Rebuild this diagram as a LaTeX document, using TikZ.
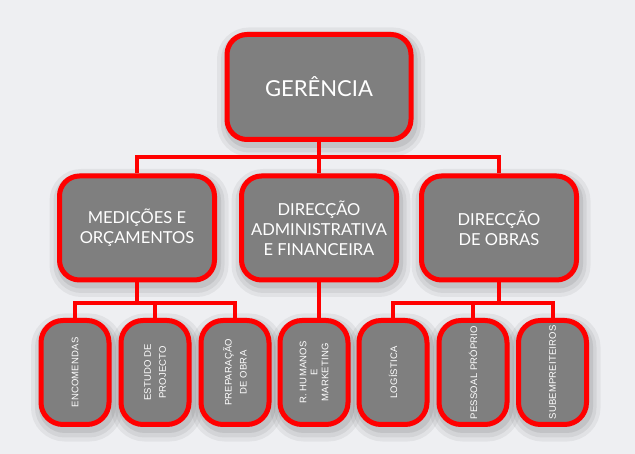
\documentclass[tikz,border=0pt]{standalone}
\usepackage{fontspec}
\setmainfont{Lato}
\newfontfamily\smallfont[LetterSpace=2]{Liberation Sans}
\definecolor{bgcol}{HTML}{EEEFF2}
\definecolor{boxfill}{HTML}{7F7F7F}
\definecolor{boxred}{HTML}{FF0000}
\tikzset{
  softshadow/.style={
    preaction={draw=black, draw opacity=0.05, line width=24pt, transform canvas={xshift=2pt, yshift=-5pt}},
    preaction={draw=black, draw opacity=0.06, line width=16pt, transform canvas={xshift=2pt, yshift=-5pt}},
    preaction={draw=black, draw opacity=0.08, line width=9pt, transform canvas={xshift=2pt, yshift=-4pt}}},
  orgbox/.style={draw=boxred, line width=5pt, fill=boxfill, rounded corners=20pt,
    text=white, align=center, inner sep=0pt, softshadow},
  topbox/.style={orgbox, minimum width=184pt, minimum height=105pt, font=\fontsize{22}{24}\selectfont},
  midbox/.style={orgbox, minimum width=155pt, minimum height=104pt, font=\fontsize{16.5}{20}\selectfont},
  lowbox/.style={orgbox, minimum width=68pt, minimum height=104pt, rounded corners=22pt},
  lowtext/.style={text=white, align=center, rotate=90, inner sep=0pt, font=\smallfont\fontsize{9.5}{15}\selectfont},
  link/.style={draw=boxred, line width=4pt}
}
\begin{document}
\begin{tikzpicture}[x=1pt, y=-1pt]
  \fill[bgcol] (0,0) rectangle (635,454);
  \useasboundingbox (0,0) rectangle (635,454);

  \coordinate (busA) at (319,157);
  \coordinate (busL) at (137,303);
  \coordinate (busR) at (499,303);

  \node[topbox] (ger) at (319,87) {GERÊNCIA};

  \node[midbox] (med) at (137,228) {MEDIÇÕES E\\ORÇAMENTOS};
  \node[midbox] (adm) at (319,228) {DIRECÇÃO\\ADMINISTRATIVA\\E FINANCEIRA};
  \node[midbox] (obr) at (499,228) {DIRECÇÃO\\DE OBRAS};

  \node[lowbox] (enc) at (75,372.5) {};
  \node[lowbox] (est) at (155,372.5) {};
  \node[lowbox] (pre) at (235,372.5) {};
  \node[lowbox] (rhu) at (314,372.5) {};
  \node[lowbox] (log) at (393,372.5) {};
  \node[lowbox] (pes) at (473,372.5) {};
  \node[lowbox] (sub) at (552.5,372.5) {};

  \node[lowtext] at (enc.center) {ENCOMENDAS};
  \node[lowtext] at (est.center) {ESTUDO DE\\PROJECTO};
  \node[lowtext] at (pre.center) {PREPARAÇÃO\\DE OBRA};
  \node[lowtext] at (rhu.center) {R. HUMANOS\\[-4pt]E\\[-4pt]MARKETING};
  \node[lowtext] at (log.center) {LOGÍSTICA};
  \node[lowtext] at (pes.center) {PESSOAL PRÓPRIO};
  \node[lowtext] at (sub.center) {SUBEMPREITEIROS};

  \draw[link] (ger.south) -- (busA);
  \draw[link] (med.north) |- (busA) -| (obr.north);
  \draw[link] (busA) -- (adm.north);

  \draw[link] (med.south) -- (busL);
  \draw[link] (enc.north) |- (busL) -| (pre.north);
  \draw[link] (est.north) -- (est.north |- busL);

  \draw[link] (adm.south) -- (adm.south |- rhu.north);

  \draw[link] (obr.south) -- (busR);
  \draw[link] (log.north) |- (busR) -| (sub.north);
  \draw[link] (pes.north) -- (pes.north |- busR);
\end{tikzpicture}
\end{document}
